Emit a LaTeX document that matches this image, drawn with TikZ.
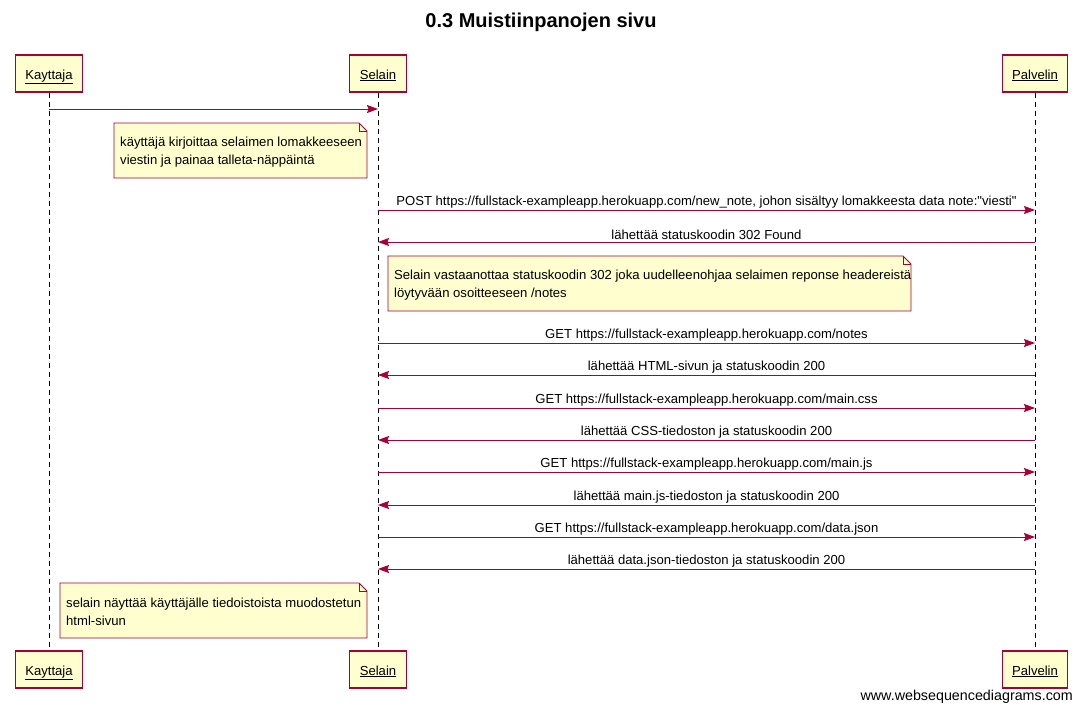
\documentclass[tikz,border=0pt]{standalone}
\usepackage{fontspec}
\setmainfont{Liberation Sans}[Ligatures=TeXOff]
\usetikzlibrary{arrows.meta,positioning}
\definecolor{umlred}{HTML}{A80036}
\definecolor{umlfill}{HTML}{FEFECE}

\begin{document}
\begin{tikzpicture}[x=1pt,y=-1pt,
  every node/.style={font=\fontsize{13.1}{18}\selectfont},
  actor/.style={draw=umlred,fill=umlfill,line width=1.1pt,minimum height=37pt,inner xsep=10pt,text height=12pt,text depth=1pt},
  life/.style={line width=.8pt,dash pattern=on 5pt off 4pt},
  msg/.style={draw=umlred,line width=.8pt,-{Stealth[length=11pt,width=8pt,inset=1.5pt]}},
  lbl/.style={above=0.5pt,inner sep=1pt},
  note/.style={anchor=west,align=left,inner xsep=6pt,inner ysep=0pt},
  noteline/.style={draw=umlred,fill=umlfill,line width=.8pt}]
\useasboundingbox (0,0) rectangle (1082,713);
\node[font=\fontsize{20}{22}\selectfont\bfseries] (title) at (541,22) {0.3 Muistiinpanojen sivu};

\node[actor] (k1) at (49,73.5) {\underline{Kayttaja}};
\node[actor] (s1) at (378,73.5) {\underline{Selain}};
\node[actor] (p1) at (1035,73.5) {\underline{Palvelin}};
\node[actor] (k2) at (49,669.5) {\underline{Kayttaja}};
\node[actor] (s2) at (378,669.5) {\underline{Selain}};
\node[actor] (p2) at (1035,669.5) {\underline{Palvelin}};
\draw[life] (k1.south) -- (k2.north);
\draw[life] (s1.south) -- (s2.north);
\draw[life] (p1.south) -- (p2.north);

\draw[msg] (k1.south |- 0,109) -- (s1.south |- 0,109);

\fill[noteline] (114,123) -- (359,123) -- (367,131) -- (367,178) -- (114,178) -- cycle;
\draw[umlred,line width=.6pt] (359,123) -- (359,131) -- (367,131);
\node[note] (n1) at (114,152) {käyttäjä kirjoittaa selaimen lomakkeeseen\\viestin ja painaa talleta-näppäintä};

\draw[msg] (s1.south |- 0,210) -- node[lbl] (m1) {POST https://fullstack-exampleapp.herokuapp.com/new\_note, johon sisältyy lomakkeesta data note:"viesti"} (p1.south |- 0,210);
\draw[msg] (p1.south |- 0,242) -- node[lbl] (m2) {lähettää statuskoodin 302 Found} (s1.south |- 0,242);

\fill[noteline] (388,256) -- (903,256) -- (911,264) -- (911,311) -- (388,311) -- cycle;
\draw[umlred,line width=.6pt] (903,256) -- (903,264) -- (911,264);
\node[note] (n2) at (388,285) {Selain vastaanottaa statuskoodin 302 joka uudelleenohjaa selaimen reponse headereistä\\löytyvään osoitteeseen /notes};

\draw[msg] (s1.south |- 0,343) -- node[lbl] (m3) {GET https://fullstack-exampleapp.herokuapp.com/notes} (p1.south |- 0,343);
\draw[msg] (p1.south |- 0,375) -- node[lbl] (m4) {lähettää HTML-sivun ja statuskoodin 200} (s1.south |- 0,375);
\draw[msg] (s1.south |- 0,408) -- node[lbl] (m5) {GET https://fullstack-exampleapp.herokuapp.com/main.css} (p1.south |- 0,408);
\draw[msg] (p1.south |- 0,440) -- node[lbl] (m6) {lähettää CSS-tiedoston ja statuskoodin 200} (s1.south |- 0,440);
\draw[msg] (s1.south |- 0,472) -- node[lbl] (m7) {GET https://fullstack-exampleapp.herokuapp.com/main.js} (p1.south |- 0,472);
\draw[msg] (p1.south |- 0,505) -- node[lbl] (m8) {lähettää main.js-tiedoston ja statuskoodin 200} (s1.south |- 0,505);
\draw[msg] (s1.south |- 0,537) -- node[lbl] (m9) {GET https://fullstack-exampleapp.herokuapp.com/data.json} (p1.south |- 0,537);
\draw[msg] (p1.south |- 0,569) -- node[lbl] (m10) {lähettää data.json-tiedoston ja statuskoodin 200} (s1.south |- 0,569);

\fill[noteline] (60,583) -- (359,583) -- (367,591) -- (367,638) -- (60,638) -- cycle;
\draw[umlred,line width=.6pt] (359,583) -- (359,591) -- (367,591);
\node[note] (n3) at (60,612) {selain näyttää käyttäjälle tiedoistoista muodostetun\\html-sivun};

\node[anchor=east,font=\fontsize{14.3}{16}\selectfont,inner sep=0pt] (wsd) at (1073,697) {www.websequencediagrams.com};
\end{tikzpicture}
\end{document}
